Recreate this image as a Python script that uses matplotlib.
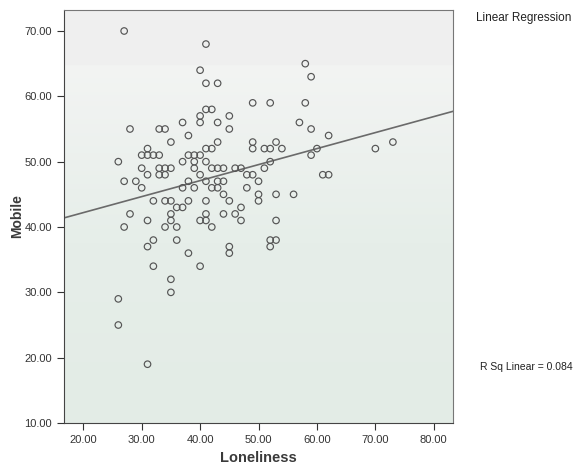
import numpy as np
import matplotlib.pyplot as plt
from matplotlib.colors import LinearSegmentedColormap

plt.rcParams['font.family'] = ['Liberation Sans', 'DejaVu Sans']

# Loneliness (x) / Mobile (y) pairs, grouped by Mobile value
rows = {
    70: [27],
    68: [41],
    65: [58],
    64: [40],
    63: [59],
    62: [41, 43],
    59: [49, 52, 58],
    58: [41, 42],
    57: [40, 45],
    56: [37, 40, 43, 57],
    55: [28, 33, 34, 45, 59],
    54: [38, 62],
    53: [35, 43, 49, 53, 73],
    52: [31, 41, 42, 49, 51, 52, 54, 60, 70],
    51: [30, 31, 32, 33, 38, 39, 40, 59],
    50: [26, 37, 39, 41, 52],
    49: [30, 33, 34, 35, 39, 42, 43, 44, 46, 47, 51],
    48: [31, 33, 34, 40, 48, 49, 61, 62],
    47: [27, 29, 38, 41, 43, 44, 50],
    46: [30, 37, 39, 42, 43, 48],
    45: [44, 50, 53, 56],
    44: [32, 34, 35, 38, 41, 45, 50],
    43: [36, 37, 47],
    42: [28, 35, 41, 44, 46],
    41: [31, 35, 40, 41, 47, 53],
    40: [27, 34, 36, 42],
    38: [32, 36, 52, 53],
    37: [31, 45, 52],
    36: [38, 45],
    34: [32, 40],
    32: [35],
    30: [35],
    29: [26],
    25: [26],
    19: [31],
}
loneliness = np.array([x for y in rows for x in rows[y]], dtype=float)
mobile = np.array([y for y in rows for x in rows[y]], dtype=float)

# fit line as drawn in the reference (intercept, slope)
fit_b0, fit_b1 = 37.3, 0.245
r_sq = 0.084

xticks = [20, 30, 40, 50, 60, 70, 80]
yticks = [10, 20, 30, 40, 50, 60, 70]

fig = plt.figure(figsize=(5.79, 4.65), dpi=100)
ax = fig.add_axes([0.1105, 0.0903, 0.672, 0.888])
xlim, ylim = (16.7, 83.3), (10, 73.2)
ax.set_xlim(*xlim)
ax.set_ylim(*ylim)

# faded background: greenish at the bottom, pale grey higher up, grey band on top
bg = LinearSegmentedColormap.from_list('bg', ['#e3ece6', '#e6eee9', '#f3f4f3'])
grad = np.linspace(0, 1, 200).reshape(-1, 1)
ax.imshow(grad, cmap=bg, aspect='auto', origin='lower', zorder=0,
          extent=(xlim[0], xlim[1], ylim[0], 65))
ax.axhspan(65, ylim[1], color='#efefef', zorder=0)

ax.scatter(loneliness, mobile, s=22, facecolors='none', edgecolors='#555555',
           linewidths=0.85, zorder=3)

xs = np.array(xlim)
ax.plot(xs, fit_b0 + fit_b1 * xs, color='#6a6a6a', lw=1.2, zorder=2)

ax.set_xticks(xticks)
ax.set_yticks(yticks)
ax.set_xticklabels(['%.2f' % t for t in xticks])
ax.set_yticklabels(['%.2f' % t for t in yticks])
ax.tick_params(direction='out', length=5, width=0.8, colors='#333333',
               labelsize=8, labelcolor='#333333')
for s in ['left', 'bottom']:
    ax.spines[s].set_color('#444444')
for s in ['top', 'right']:
    ax.spines[s].set_color('#777777')

ax.set_xlabel('Loneliness', fontsize=10.5, fontweight='bold', color='#3a3a3a',
              labelpad=4.5)
ax.set_ylabel('Mobile', fontsize=10, fontweight='bold', color='#3a3a3a',
              labelpad=0)

fig.text(0.822, 0.961, 'Linear Regression', fontsize=8.5, color='#222222',
         va='center', ha='left')
fig.text(0.829, 0.2115, 'R Sq Linear = %.3f' % r_sq, fontsize=7.5,
         color='#222222', va='center', ha='left')

fig.savefig('out.png', dpi=100)
